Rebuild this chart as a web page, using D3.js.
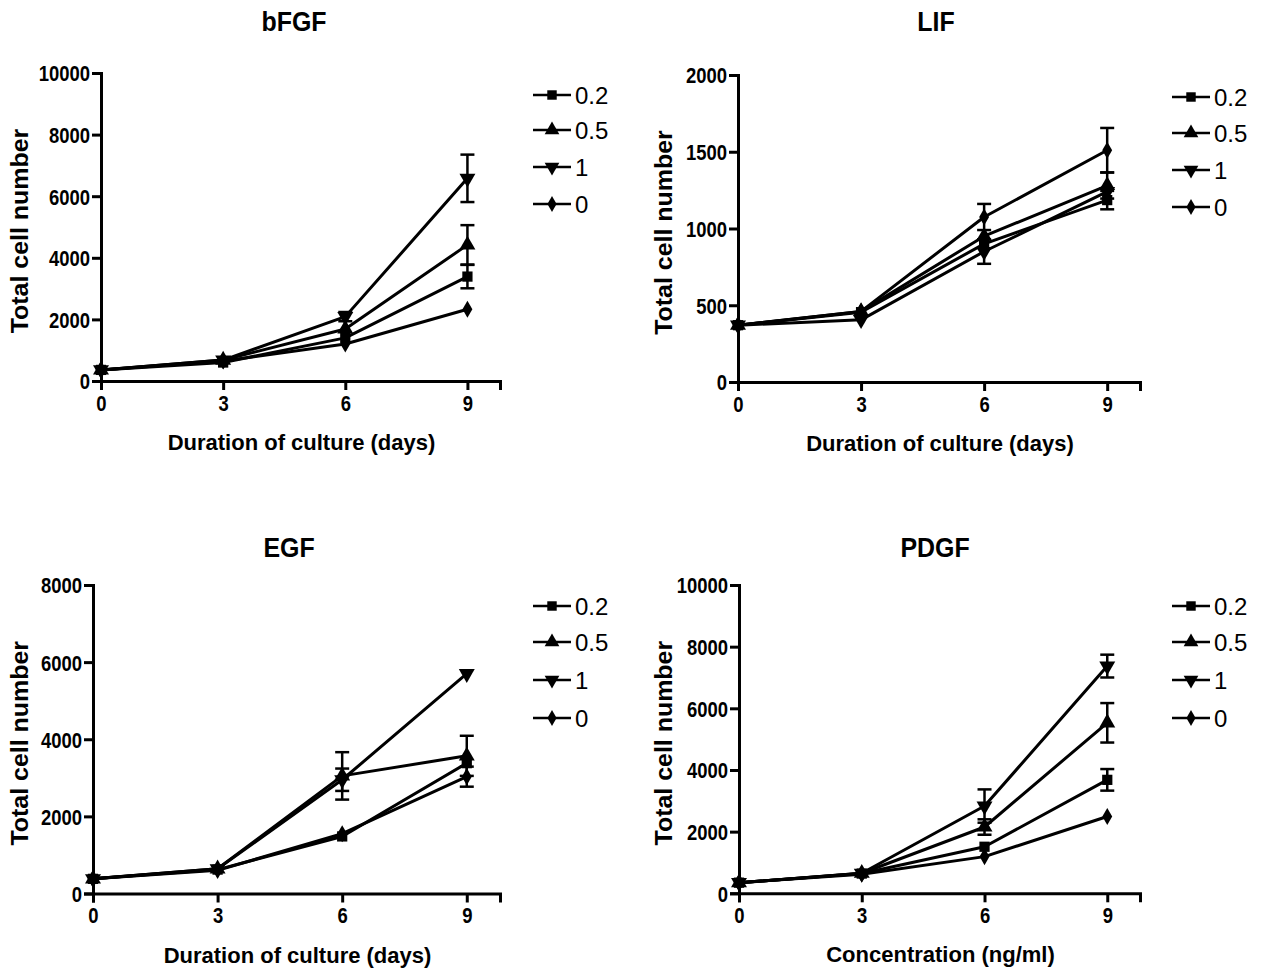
<!DOCTYPE html>
<html><head><meta charset="utf-8">
<script src="https://cdn.jsdelivr.net/npm/d3@7"></script>
<style>body{margin:0;background:#fff}svg{display:block}</style>
</head><body>
<svg id="chart" width="1268" height="970"></svg>
<script>
// ---- data ----
const days = [0, 3, 6, 9];
const seriesNames = ["0.2", "0.5", "1", "0"];
const dayTicks = [0, 3, 6, 9];

const bfgfTicks = [0, 2000, 4000, 6000, 8000, 10000];
const bfgf02 = [360, 600, 1400, 3390];
const bfgf05 = [360, 680, 1690, 4420];
const bfgf1  = [360, 680, 2090, 6580];
const bfgf0  = [360, 650, 1200, 2330];
const bfgf02Err = [0, 0, 0, 380];
const bfgf05Err = [0, 0, 0, 640];
const bfgf1Err  = [0, 0, 150, 770];
const bfgf0Err  = [0, 0, 0, 0];

const lifTicks = [0, 500, 1000, 1500, 2000];
const lif02 = [370, 455, 900, 1185];
const lif05 = [370, 460, 950, 1280];
const lif1  = [370, 405, 850, 1240];
const lif0  = [370, 460, 1075, 1510];
const lif02Err = [0, 0, 0, 60];
const lif05Err = [0, 0, 0, 85];
const lif1Err  = [0, 0, 80, 0];
const lif0Err  = [0, 0, 85, 145];

const egfTicks = [0, 2000, 4000, 6000, 8000];
const egf02 = [380, 620, 1480, 3380];
const egf05 = [380, 640, 3050, 3570];
const egf1  = [380, 640, 2950, 5700];
const egf0  = [380, 600, 1550, 3030];
const egf02Err = [0, 0, 0, 0];
const egf05Err = [0, 0, 615, 520];
const egf1Err  = [0, 0, 290, 0];
const egf0Err  = [0, 0, 0, 260];

const pdgfTicks = [0, 2000, 4000, 6000, 8000, 10000];
const pdgf02 = [345, 640, 1510, 3680];
const pdgf05 = [345, 650, 2150, 5530];
const pdgf1  = [345, 650, 2830, 7370];
const pdgf0  = [345, 620, 1190, 2490];
const pdgf02Err = [0, 0, 0, 350];
const pdgf05Err = [0, 0, 250, 640];
const pdgf1Err  = [0, 0, 540, 370];
const pdgf0Err  = [0, 0, 0, 0];

// ---- layout ----
const panels = [
  {title: "bFGF", xlabel: "Duration of culture (days)", ymax: 10000, yticks: bfgfTicks,
   series: [bfgf02, bfgf05, bfgf1, bfgf0], errs: [bfgf02Err, bfgf05Err, bfgf1Err, bfgf0Err],
   l: 101, r: 500, t: 73, b: 381, legX: 533, legY: [95, 130, 167, 204], titleX: 294, titleY: 31, ylabX: 19},
  {title: "LIF", xlabel: "Duration of culture (days)", ymax: 2000, yticks: lifTicks,
   series: [lif02, lif05, lif1, lif0], errs: [lif02Err, lif05Err, lif1Err, lif0Err],
   l: 738, r: 1140, t: 75, b: 382, legX: 1172, legY: [97, 133, 170, 207], titleX: 936, titleY: 31, ylabX: 663},
  {title: "EGF", xlabel: "Duration of culture (days)", ymax: 8000, yticks: egfTicks,
   series: [egf02, egf05, egf1, egf0], errs: [egf02Err, egf05Err, egf1Err, egf0Err],
   l: 93, r: 500, t: 585, b: 893.5, legX: 533, legY: [606, 642, 680, 718], titleX: 289, titleY: 557, ylabX: 19},
  {title: "PDGF", xlabel: "Concentration (ng/ml)", ymax: 10000, yticks: pdgfTicks,
   series: [pdgf02, pdgf05, pdgf1, pdgf0], errs: [pdgf02Err, pdgf05Err, pdgf1Err, pdgf0Err],
   l: 739, r: 1140, t: 585, b: 893.3, legX: 1172, legY: [606, 642, 680, 718], titleX: 935, titleY: 557, ylabX: 663}
];

const symbols = [
  {type: d3.symbolSquare, size: 105, rot: 0},
  {type: d3.symbolTriangle, size: 110, rot: 0},
  {type: d3.symbolTriangle, size: 110, rot: 180},
  {type: d3.symbolDiamond, size: 85, rot: 0}
];

const svg = d3.select("#chart");
const FONT = "'Liberation Sans', Arial, sans-serif";
const TICKSCALE = 0.84;

panels.forEach(p => {
  const g = svg.append("g");
  const x = d3.scaleLinear().domain([0, 9.8]).range([p.l, p.r]);
  const y = d3.scaleLinear().domain([0, p.ymax]).range([p.b, p.t]);

  // axes
  const xa = g.append("g").attr("transform", `translate(0,${p.b})`)
    .call(d3.axisBottom(x).tickValues(dayTicks).tickFormat(d3.format("d")).tickSizeOuter(0).tickSize(9).tickPadding(5));
  const ya = g.append("g").attr("transform", `translate(${p.l},0)`)
    .call(d3.axisLeft(y).tickValues(p.yticks).tickFormat(d3.format("d")).tickSizeOuter(0).tickSize(9).tickPadding(2));
  [xa, ya].forEach(a => {
    a.selectAll("path.domain").attr("stroke", "#000").attr("stroke-width", 3);
    a.selectAll(".tick line").attr("stroke", "#000").attr("stroke-width", 3);
    a.selectAll(".tick text").attr("fill", "#000").style("font-family", FONT)
      .style("font-weight", "bold").style("font-size", "22px");
  });
  ya.selectAll(".tick text").attr("dy", "0.36em")
    .attr("transform", function() { const xx = +d3.select(this).attr("x"); return `translate(${xx*(1-TICKSCALE)},0) scale(${TICKSCALE},1)`; });
  xa.selectAll(".tick text").attr("transform", `scale(${TICKSCALE},1)`);

  // title
  g.append("text").attr("transform", `translate(${p.titleX},${p.titleY}) scale(0.89,1)`).attr("text-anchor", "middle")
    .style("font-family", FONT).style("font-weight", "bold").style("font-size", "28px").text(p.title);
  // x label
  g.append("text").attr("transform", `translate(${(p.l + p.r) / 2 + 1},${p.b + 69})`)
    .attr("text-anchor", "middle").style("font-family", FONT).style("font-weight", "bold")
    .style("font-size", "22px").text(p.xlabel);
  // y label
  g.append("text").attr("transform", `translate(${p.ylabX + 9},${(p.t + p.b) / 2 + 4}) rotate(-90) scale(1.04,1)`)
    .attr("text-anchor", "middle").style("font-family", FONT).style("font-weight", "bold")
    .style("font-size", "24px").text("Total cell number");

  const line = d3.line().x((d, i) => x(days[i])).y(d => y(d));
  // lines
  p.series.forEach(s => {
    g.append("path").datum(s).attr("d", line).attr("fill", "none")
      .attr("stroke", "#000").attr("stroke-width", 3).attr("stroke-linejoin", "round");
  });
  // error bars
  p.series.forEach((s, k) => {
    s.forEach((v, i) => {
      const e = p.errs[k][i];
      if (!e) return;
      const cx = x(days[i]);
      g.append("line").attr("x1", cx).attr("x2", cx).attr("y1", y(v - e)).attr("y2", y(v + e))
        .attr("stroke", "#000").attr("stroke-width", 2.5);
      [v - e, v + e].forEach(w => {
        g.append("line").attr("x1", cx - 7).attr("x2", cx + 7).attr("y1", y(w)).attr("y2", y(w))
          .attr("stroke", "#000").attr("stroke-width", 2.5);
      });
    });
  });
  // markers
  p.series.forEach((s, k) => {
    const sym = symbols[k];
    g.selectAll(null).data(s).enter().append("path")
      .attr("d", d3.symbol().type(sym.type).size(sym.size))
      .attr("transform", (d, i) => `translate(${x(days[i])},${y(d)}) rotate(${sym.rot})`)
      .attr("fill", "#000");
  });

  // legend
  seriesNames.forEach((name, k) => {
    const ly = p.legY[k];
    const sym = symbols[k];
    g.append("line").attr("x1", p.legX).attr("x2", p.legX + 38).attr("y1", ly).attr("y2", ly)
      .attr("stroke", "#000").attr("stroke-width", 2.5);
    g.append("path").attr("d", d3.symbol().type(sym.type).size(sym.size * 0.85))
      .attr("transform", `translate(${p.legX + 19},${ly}) rotate(${sym.rot})`).attr("fill", "#000");
    g.append("text").attr("x", p.legX + 42).attr("y", ly).attr("dy", "0.36em")
      .style("font-family", FONT).style("font-size", "24px").text(name);
  });
});
</script>
</body></html>
